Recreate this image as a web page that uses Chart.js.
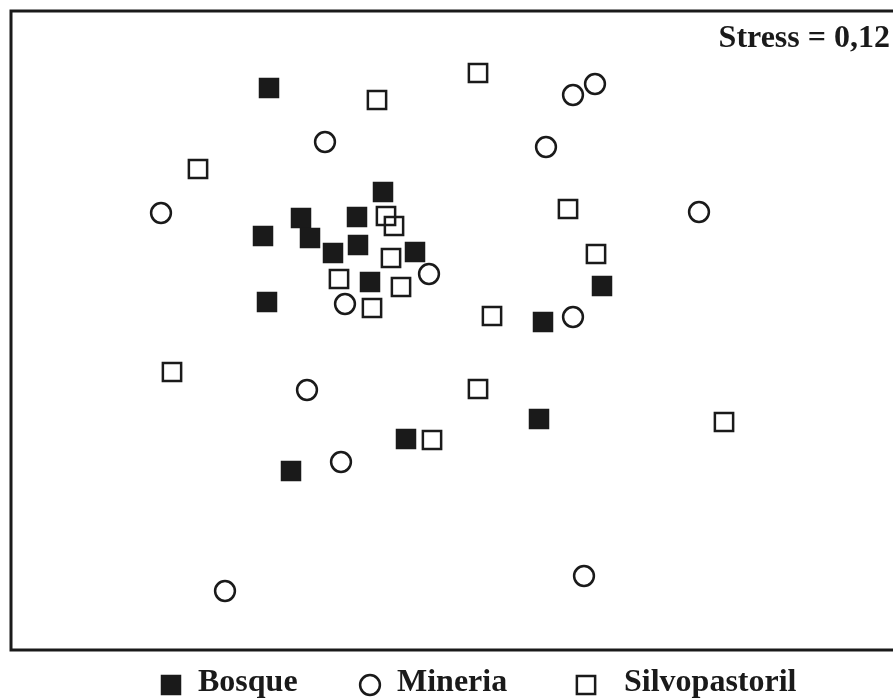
<!DOCTYPE html>
<html>
<head>
<meta charset="utf-8">
<script src="https://cdn.jsdelivr.net/npm/chart.js@4/dist/chart.umd.min.js"></script>
<style>
  html, body { margin: 0; padding: 0; background: #ffffff; }
  #wrap { width: 893px; height: 700px; position: relative; }
</style>
</head>
<body>
<div id="wrap"><canvas id="c" width="893" height="700"></canvas></div>
<script>
// NMDS ordination scores (arbitrary units; y grows downward)
const seriesNames = ["Bosque", "Mineria", "Silvopastoril"];
const stressLabel = "Stress = 0,12";

const bosqueX = [269, 383, 301, 357, 263, 310, 333, 358, 415, 370, 267, 602, 543, 539, 406, 291];
const bosqueY = [ 88, 192, 218, 217, 236, 238, 253, 245, 252, 282, 302, 286, 322, 419, 439, 471];

const mineriaX = [161, 325, 573, 595, 546, 699, 429, 345, 573, 307, 341, 225, 584];
const mineriaY = [213, 142,  95,  84, 147, 212, 274, 304, 317, 390, 462, 591, 576];

const silvoX = [198, 377, 478, 386, 394, 391, 339, 401, 372, 568, 596, 492, 172, 478, 432, 724];
const silvoY = [169, 100,  73, 216, 226, 258, 279, 287, 308, 209, 254, 316, 372, 389, 440, 422];

const toPts = (xs, ys) => xs.map((x, i) => ({ x: x, y: ys[i] }));
const INK = '#1a1a1a';

const datasets = [
  { label: seriesNames[0], data: toPts(bosqueX, bosqueY), pointStyle: 'rect',
    pointRadius: 14.5, backgroundColor: INK, borderColor: INK, borderWidth: 0 },
  { label: seriesNames[1], data: toPts(mineriaX, mineriaY), pointStyle: 'circle',
    pointRadius: 9.9, backgroundColor: 'rgba(0,0,0,0)', borderColor: INK, borderWidth: 2.5 },
  { label: seriesNames[2], data: toPts(silvoX, silvoY), pointStyle: 'rect',
    pointRadius: 12.9, backgroundColor: 'rgba(0,0,0,0)', borderColor: INK, borderWidth: 2.5 }
];

const legendPos = [
  { mx: 171, tx: 198 },
  { mx: 370, tx: 397 },
  { mx: 586, tx: 624 }
];

const decor = {
  id: 'decor',
  afterDraw(chart) {
    const ctx = chart.ctx, a = chart.chartArea;
    ctx.save();
    // frame (right edge runs off the picture)
    ctx.strokeStyle = INK; ctx.lineWidth = 3;
    ctx.beginPath();
    ctx.moveTo(a.right + 10, a.top);
    ctx.lineTo(a.left, a.top);
    ctx.lineTo(a.left, a.bottom);
    ctx.lineTo(a.right + 10, a.bottom);
    ctx.stroke();
    // stress label
    ctx.fillStyle = INK;
    ctx.font = 'bold 32px "Liberation Serif", "Times New Roman", serif';
    ctx.textAlign = 'right'; ctx.textBaseline = 'alphabetic';
    ctx.fillText(stressLabel, 890, 47);
    // legend
    ctx.textAlign = 'left';
    chart.data.datasets.forEach((ds, i) => {
      const p = legendPos[i];
      ctx.fillStyle = ds.backgroundColor;
      ctx.strokeStyle = ds.borderColor;
      ctx.lineWidth = ds.borderWidth;
      Chart.helpers.drawPoint(ctx, {
        pointStyle: ds.pointStyle, rotation: 0,
        radius: ds.pointRadius, borderWidth: ds.borderWidth
      }, p.mx, 685);
      ctx.fillStyle = INK;
      ctx.fillText(ds.label, p.tx, 691);
    });
    ctx.restore();
  }
};

new Chart(document.getElementById('c'), {
  type: 'scatter',
  data: { datasets: datasets },
  options: {
    responsive: false,
    animation: false,
    devicePixelRatio: 1,
    layout: { autoPadding: false, padding: { left: 11, top: 11, right: 0, bottom: 50 } },
    plugins: { legend: { display: false }, tooltip: { enabled: false } },
    scales: {
      x: { type: 'linear', display: false, min: 11, max: 893 },
      y: { type: 'linear', display: false, reverse: true, min: 11, max: 650 }
    }
  },
  plugins: [decor]
});
</script>
</body>
</html>
